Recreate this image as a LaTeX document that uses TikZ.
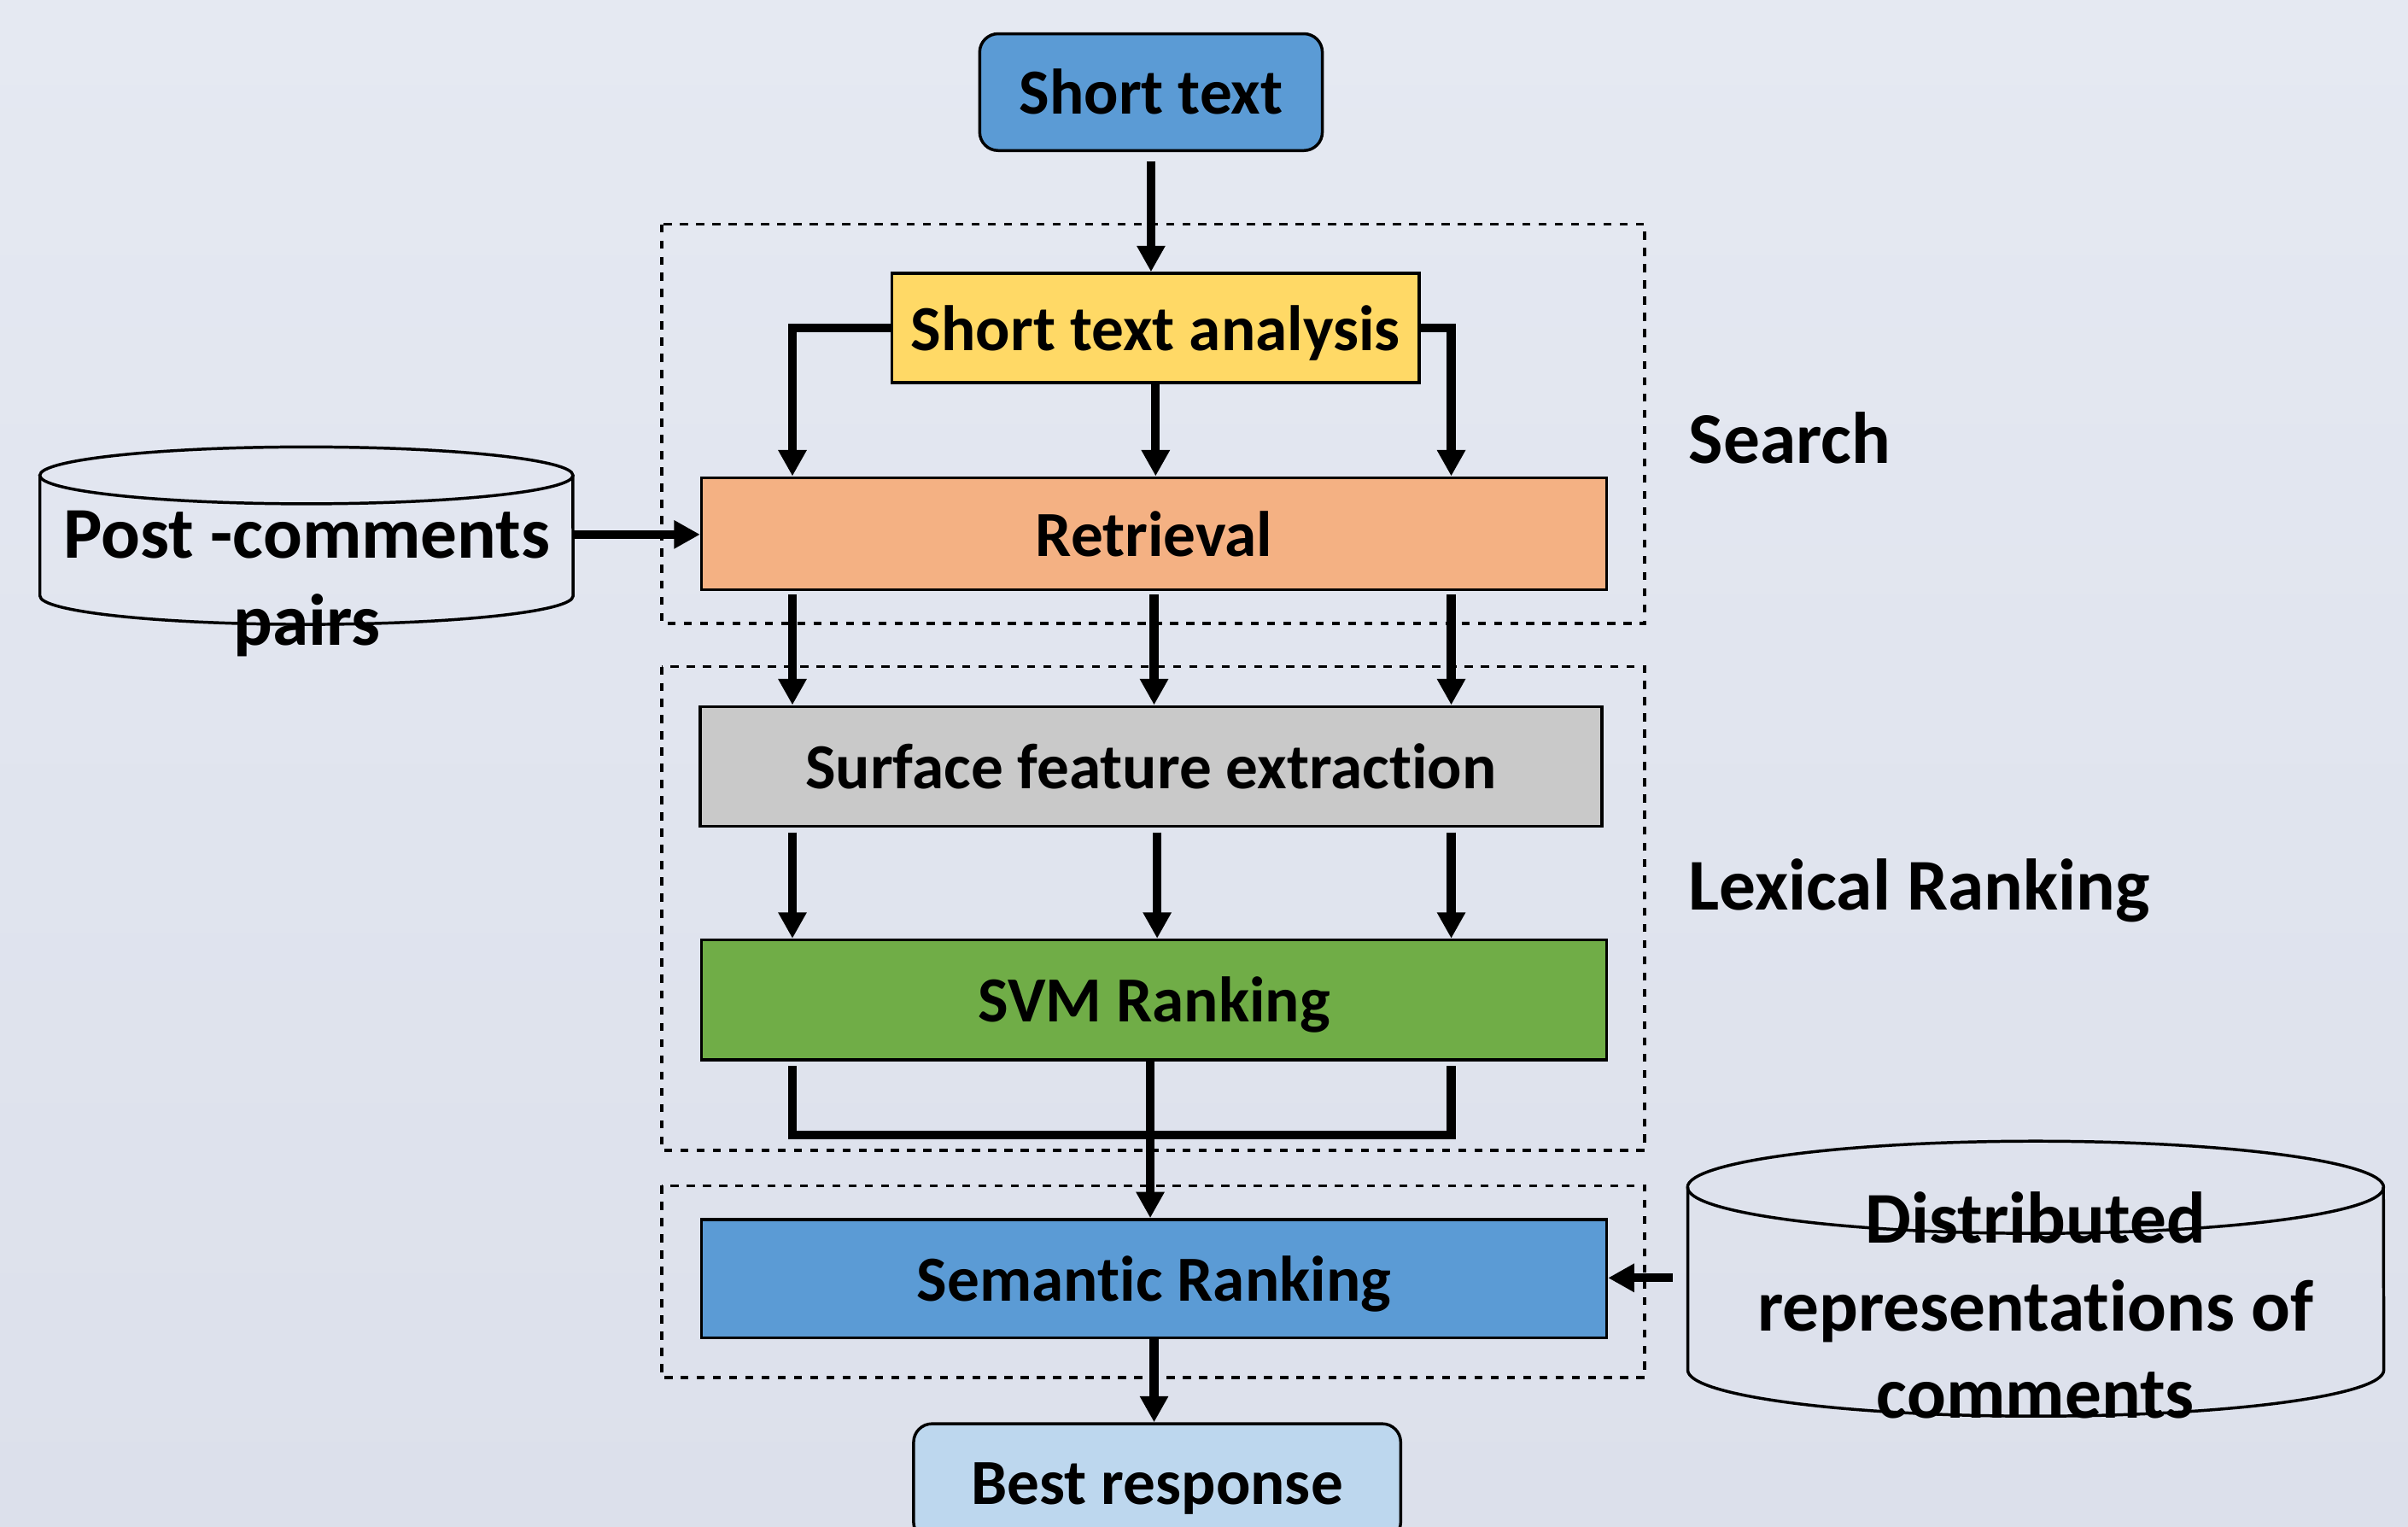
\documentclass[tikz,border=0pt]{standalone}
\usepackage{fontspec}
\setmainfont[Ligatures=NoCommon]{Carlito}
\usetikzlibrary{calc}
\usetikzlibrary{arrows.meta}

\definecolor{bgtop}{RGB}{229,233,242}
\definecolor{bgbot}{RGB}{220,224,235}
\definecolor{stepblue}{RGB}{91,155,213}
\definecolor{stepyellow}{RGB}{255,217,102}
\definecolor{steporange}{RGB}{244,177,131}
\definecolor{stepgray}{RGB}{201,201,201}
\definecolor{stepgreen}{RGB}{112,173,71}
\definecolor{steplight}{RGB}{189,215,238}

\begin{document}
\begin{tikzpicture}[x=0.01cm,y=-0.01cm,
  boxfont/.style={font=\fontsize{11.9}{14}\selectfont\bfseries},
  bigfont/.style={font=\fontsize{13.5}{16.2}\selectfont\bfseries},
  stepbox/.style={draw,line width=0.55pt,inner sep=0pt,boxfont,text height=0.29cm,text depth=0pt,minimum width=5.89cm,minimum height=0.77cm},
  endbox/.style={stepbox,rounded corners=0.12cm,minimum height=0.76cm},
  dbline/.style={line width=0.55pt},
  stage/.style={line width=0.6pt,dash pattern=on 1.5pt off 1.5pt},
  flow/.style={-{Triangle[length=0.17cm,width=0.175cm]},line width=1.6pt},
  bar/.style={line width=1.6pt}]
% background
\useasboundingbox (0,0) rectangle (1568,994);
\clip (0,0) rectangle (1568,994);
\shade[top color=bgtop,bottom color=bgbot] (0,0) rectangle (1568,994);

% lanes
\coordinate (laneL) at (516,0);
\coordinate (laneR) at (945,0);

% stages
\draw[stage] (431,146) rectangle (1071,406);
\draw[stage] (431,434) rectangle (1071,749);
\draw[stage] (431,772) rectangle (1071,897);
\node[bigfont,anchor=west,inner sep=0pt] (search) at (1099,285) {Search};
\node[bigfont,anchor=west,inner sep=0pt] (lexical) at (1099,580) {Lexical Ranking};

% steps
\node[endbox,fill=stepblue,minimum width=2.23cm] (short) at (749.5,60) {Short text};
\node[stepbox,fill=stepyellow,minimum width=3.43cm,minimum height=0.71cm] (analysis) at (752.5,213.5) {Short text analysis};
\node[stepbox,fill=steporange,minimum height=0.73cm] (retrieval) at (751.5,347.5) {Retrieval};
\node[stepbox,fill=stepgray,minimum width=5.87cm,minimum height=0.78cm] (surface) at (749.5,499) {Surface feature extraction};
\node[stepbox,fill=stepgreen,minimum height=0.78cm] (svm) at (751.5,651) {SVM Ranking};
\node[stepbox,fill=stepblue] (semantic) at (751.5,832.5) {Semantic Ranking};
\node[endbox,fill=steplight,minimum width=3.17cm] (best) at (753.5,965) {Best response};

% post-comments store
\draw[dbline] (199.5,309.5) ellipse [x radius=1.735cm,y radius=0.185cm];
\draw[dbline] (26,309.5) -- (26,388) arc[start angle=180,end angle=360,x radius=1.735cm,y radius=0.185cm] -- (373,309.5);
\coordinate (posts) at (373,348);
\node[bigfont,align=center] (poststext) at (200,380) {Post -comments\\pairs};

% comment vectors store
\draw[dbline] (1325.5,773) ellipse [x radius=2.265cm,y radius=0.3cm];
\draw[dbline] (1099,773) -- (1099,892) arc[start angle=180,end angle=360,x radius=2.265cm,y radius=0.3cm] -- (1552,773);
\coordinate (vectors) at (1099,832);
\node[bigfont,align=center] (vectorstext) at (1325.5,850) {Distributed\\representations of\\comments};

% connectors
\draw[flow,shorten <=0.06cm] (short.south) -- (short.south |- analysis.north);
\draw[flow] (analysis.west) -| (retrieval.north -| laneL);
\draw[flow] (analysis.south) -- (analysis.south |- retrieval.north);
\draw[flow] (analysis.east) -| (retrieval.north -| laneR);
\draw[flow] (posts) -- (posts -| retrieval.west);

\draw[flow,shorten <=0.02cm] (retrieval.south -| laneL) -- (surface.north -| laneL);
\draw[flow,shorten <=0.02cm] (retrieval.south) -- (retrieval.south |- surface.north);
\draw[flow,shorten <=0.02cm] (retrieval.south -| laneR) -- (surface.north -| laneR);

\draw[flow,shorten <=0.03cm] (surface.south -| laneL) -- (svm.north -| laneL);
\draw[flow,shorten <=0.03cm] ([xshift=0.04cm]surface.south) -- ([xshift=0.04cm]surface.south |- svm.north);
\draw[flow,shorten <=0.03cm] (surface.south -| laneR) -- (svm.north -| laneR);

\draw[bar] ([yshift=-0.03cm]svm.south -| laneL) -- ++(0,45) -| ([yshift=-0.03cm]svm.south -| laneR);
\draw[flow] ([xshift=-0.025cm]svm.south) -- ([xshift=-0.025cm]svm.south |- semantic.north);
\draw[flow,shorten <=0.1cm] (vectors) -- (vectors -| semantic.east);
\draw[flow] (semantic.south) -- (semantic.south |- best.north);
\end{tikzpicture}
\end{document}
